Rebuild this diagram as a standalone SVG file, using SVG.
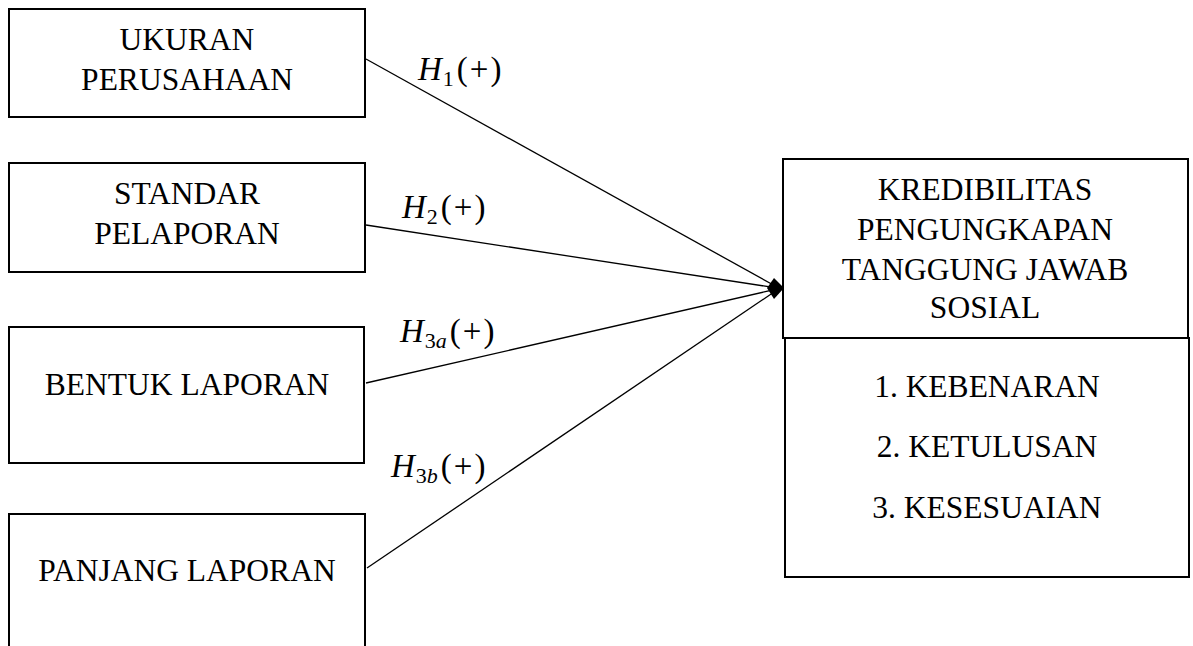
<svg xmlns="http://www.w3.org/2000/svg" width="1193" height="646" viewBox="0 0 1193 646">
<style>
.box{fill:#fff;stroke:#000;stroke-width:2}
.t{font-family:"Liberation Serif","Times New Roman",serif;font-size:31.5px;fill:#000;text-anchor:middle}
.m{font-family:"Liberation Serif","Times New Roman",serif;font-size:33px;fill:#000}
.i{font-style:italic}
.s{font-size:22px}
.p{letter-spacing:2px}
.c{stroke:#000;stroke-width:1.3;fill:none}
</style>
<rect width="1193" height="646" fill="#fff"/>
<g id="connectors">
<line class="c" x1="366" y1="59" x2="777" y2="287"/>
<line class="c" x1="366" y1="225" x2="777" y2="288"/>
<line class="c" x1="366" y1="383" x2="777" y2="289"/>
<line class="c" x1="367" y1="568" x2="777" y2="290"/>
<polygon points="784,288 774,278 767,288 774,299" fill="#000"/>
<text class="m" x="418" y="80"><tspan class="i">H</tspan><tspan class="s" dy="6" dx="1">1</tspan><tspan class="p" dy="-6" dx="3">(+)</tspan></text>
<text class="m" x="402" y="218"><tspan class="i">H</tspan><tspan class="s" dy="6" dx="1">2</tspan><tspan class="p" dy="-6" dx="3">(+)</tspan></text>
<text class="m" x="400" y="342"><tspan class="i">H</tspan><tspan class="s" dy="6" dx="1">3<tspan class="i">a</tspan></tspan><tspan class="p" dy="-6" dx="3">(+)</tspan></text>
<text class="m" x="391" y="477"><tspan class="i">H</tspan><tspan class="s" dy="6" dx="1">3<tspan class="i">b</tspan></tspan><tspan class="p" dy="-6" dx="3">(+)</tspan></text>
</g>
<g id="ukuran">
<rect class="box" x="9" y="9" width="356" height="108"/>
<text class="t" x="187" y="50">UKURAN</text>
<text class="t" x="187" y="90">PERUSAHAAN</text>
</g>
<g id="standar">
<rect class="box" x="9" y="163" width="356" height="109"/>
<text class="t" x="187" y="204">STANDAR</text>
<text class="t" x="187" y="244">PELAPORAN</text>
</g>
<g id="bentuk">
<rect class="box" x="9" y="327" width="355" height="136"/>
<text class="t" x="187" y="395">BENTUK LAPORAN</text>
</g>
<g id="panjang">
<rect class="box" x="9" y="514" width="356" height="150"/>
<text class="t" x="187" y="581">PANJANG LAPORAN</text>
</g>
<g id="kredibilitas">
<rect class="box" x="783" y="159" width="405" height="179"/>
<text class="t" x="985" y="200">KREDIBILITAS</text>
<text class="t" x="985" y="240">PENGUNGKAPAN</text>
<text class="t" x="985" y="280">TANGGUNG JAWAB</text>
<text class="t" x="985" y="318">SOSIAL</text>
</g>
<g id="indikator">
<rect class="box" x="785" y="338" width="404" height="239"/>
<text class="t" x="987" y="397">1. KEBENARAN</text>
<text class="t" x="987" y="457">2. KETULUSAN</text>
<text class="t" x="987" y="518">3. KESESUAIAN</text>
</g>
</svg>
